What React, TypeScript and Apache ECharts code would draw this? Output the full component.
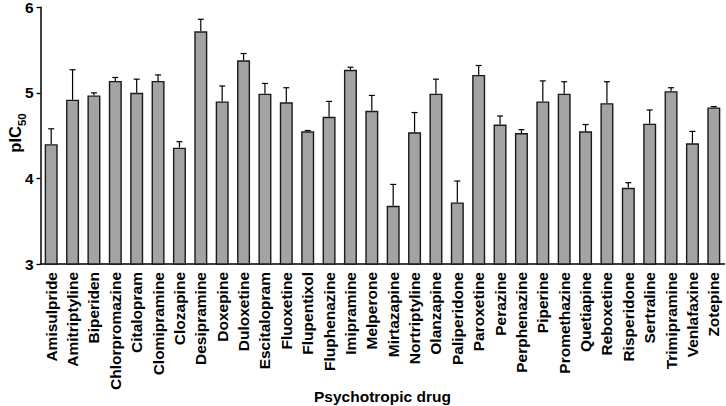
import React, { useEffect, useRef } from "react";
import * as echarts from "echarts";

const drugs = [
  "Amisulpride", "Amitriptyline", "Biperiden", "Chlorpromazine", "Citalopram",
  "Clomipramine", "Clozapine", "Desipramine", "Doxepine", "Duloxetine",
  "Escitalopram", "Fluoxetine", "Flupentixol", "Fluphenazine", "Imipramine",
  "Melperone", "Mirtazapine", "Nortriptyline", "Olanzapine", "Paliperidone",
  "Paroxetine", "Perazine", "Perphenazine", "Piperine", "Promethazine",
  "Quetiapine", "Reboxetine", "Risperidone", "Sertraline", "Trimipramine",
  "Venlafaxine", "Zotepine",
];

const pIC50 = [
  4.40, 4.92, 4.97, 5.14, 5.00,
  5.14, 4.36, 5.72, 4.90, 5.38,
  4.99, 4.89, 4.55, 4.72, 5.27,
  4.79, 3.68, 4.54, 4.99, 3.72,
  5.21, 4.63, 4.53, 4.90, 4.99,
  4.55, 4.88, 3.89, 4.64, 5.02,
  4.41, 4.83,
];

const sem = [
  0.18, 0.35, 0.03, 0.04, 0.16,
  0.07, 0.07, 0.14, 0.18, 0.08,
  0.12, 0.17, 0.01, 0.18, 0.03,
  0.18, 0.25, 0.23, 0.17, 0.25,
  0.11, 0.10, 0.04, 0.24, 0.14,
  0.08, 0.25, 0.06, 0.16, 0.04,
  0.14, 0.01,
];

const yTicks = { min: 3, max: 6, interval: 1 };

const FONT = "'Liberation Sans', Arial, sans-serif";

export default function App() {
  const ref = useRef<HTMLDivElement>(null);
  useEffect(() => {
    if (!ref.current) return;
    const chart = echarts.init(ref.current, undefined, { renderer: "svg" });
    const errData = pIC50.map((v, i) => [i, v, v + sem[i]]);
    chart.setOption({
      animation: false,
      grid: { left: 40.5, right: 1.5, top: 7.3, bottom: 142, outerBoundsMode: "none", containLabel: false },
      graphic: [
        {
          type: "text",
          x: 15,
          y: 133,
          rotation: Math.PI / 2,
          style: {
            text: "{a|pIC}{b|50}",
            align: "center",
            verticalAlign: "middle",
            rich: {
              a: { fontSize: 16.5, fontWeight: "bold", fontFamily: FONT, fill: "#000", verticalAlign: "top", lineHeight: 18 },
              b: { fontSize: 11.5, fontWeight: "bold", fontFamily: FONT, fill: "#000", verticalAlign: "top", lineHeight: 18, padding: [10, 0, 0, 0] },
            },
          },
        },
      ],
      xAxis: {
        type: "category",
        data: drugs,
        name: "Psychotropic drug",
        nameLocation: "middle",
        nameGap: 124,
        nameMoveOverlap: false,
        nameTextStyle: { fontSize: 15.5, fontWeight: "bold", fontFamily: FONT, color: "#000", verticalAlign: "top" },
        axisLine: { lineStyle: { color: "#000", width: 1.5 } },
        axisTick: { alignWithLabel: true, length: 4, lineStyle: { color: "#000", width: 1.3 } },
        axisLabel: {
          rotate: 90,
          interval: 0,
          margin: 8,
          fontSize: 15.5,
          fontWeight: "bold",
          fontFamily: FONT,
          color: "#000",
        },
      },
      yAxis: {
        type: "value",
        min: yTicks.min,
        max: yTicks.max,
        interval: yTicks.interval,
        splitLine: { show: false },
        axisLine: { show: true, lineStyle: { color: "#000", width: 1.5 } },
        axisTick: { show: true, length: 4, lineStyle: { color: "#000", width: 1.3 } },
        axisLabel: {
          margin: 7,
          fontSize: 15.5,
          fontWeight: "bold",
          fontFamily: FONT,
          color: "#000",
        },
      },
      series: [
        {
          type: "bar",
          data: pIC50,
          barWidth: 13,
          itemStyle: { color: "#a3a3a3", borderColor: "#1a1a1a", borderWidth: 1.4 },
          z: 2,
        },
        {
          type: "custom",
          data: errData,
          z: 1,
          renderItem: (params: any, api: any) => {
            const i = api.value(0);
            const top = api.coord([i, api.value(2)]);
            const base = api.coord([i, api.value(1)]);
            const half = 3;
            return {
              type: "group",
              children: [
                {
                  type: "line",
                  shape: { x1: top[0], y1: top[1], x2: base[0], y2: base[1] },
                  style: { stroke: "#000", lineWidth: 1.2 },
                },
                {
                  type: "line",
                  shape: { x1: top[0] - half, y1: top[1], x2: top[0] + half, y2: top[1] },
                  style: { stroke: "#000", lineWidth: 1.2 },
                },
              ],
            };
          },
        },
      ],
    });
    return () => chart.dispose();
  }, []);
  return (
    <div
      ref={ref}
      style={{ position: "absolute", left: 0, top: 0, width: 726, height: 406 }}
    />
  );
}
